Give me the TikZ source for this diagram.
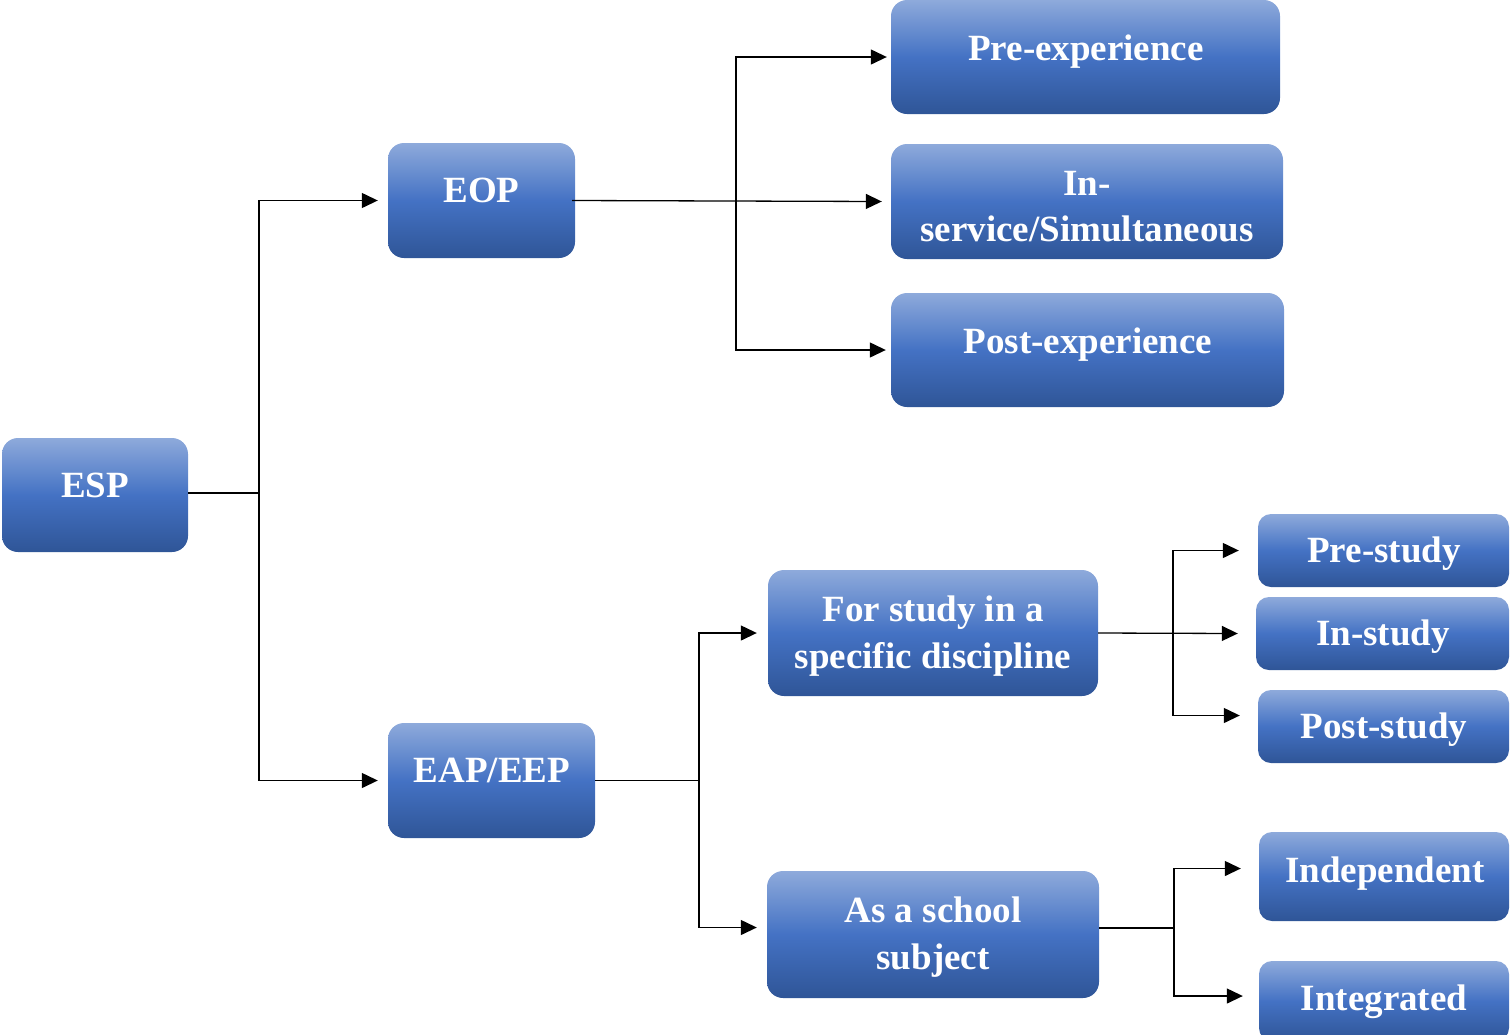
\documentclass[tikz,border=0pt]{standalone}
\usepackage{fontspec}
\setmainfont{Liberation Serif}
\usetikzlibrary{arrows.meta}
\definecolor{boxtop}{HTML}{8EAADB}
\definecolor{boxmid}{HTML}{4472C4}
\definecolor{boxbot}{HTML}{2F5597}
\tikzset{
  box/.style={rectangle, rounded corners=16pt, draw=none, inner sep=0pt,
    top color=boxtop, bottom color=boxbot, middle color=boxmid},
  smallbox/.style={box, rounded corners=13pt},
  lbl/.style={anchor=base, text=white, inner sep=0pt,
    font=\fontsize{37}{44}\selectfont\bfseries},
  link/.style={line width=1.3pt, draw=black},
  arr/.style={link, -{Triangle[length=16pt,width=15pt]}},
}
\begin{document}
\begin{tikzpicture}[x=1pt,y=-1pt]
\useasboundingbox (0,0) rectangle (1511,1034);

% boxes
\node[box, minimum width=186pt, minimum height=114pt] (esp) at (95,495) {};
\node[box, minimum width=187pt, minimum height=115pt] (eop) at (481.5,200.5) {};
\node[box, minimum width=207pt, minimum height=115pt] (eap) at (491.5,780.5) {};
\node[box, minimum width=389pt, minimum height=114pt] (pre) at (1085.5,57) {};
\node[box, minimum width=392pt, minimum height=115pt] (ins) at (1087,201.5) {};
\node[box, minimum width=393pt, minimum height=114pt] (post) at (1087.5,350) {};
\node[box, minimum width=330pt, minimum height=126pt] (fsd) at (933,633) {};
\node[box, minimum width=332pt, minimum height=127pt] (sch) at (933,934.5) {};
\node[smallbox, minimum width=251pt, minimum height=73pt] (prs) at (1383.5,550.5) {};
\node[smallbox, minimum width=253pt, minimum height=73pt] (ins2) at (1382.5,633.5) {};
\node[smallbox, minimum width=251pt, minimum height=73pt] (pos) at (1383.5,726.5) {};
\node[smallbox, minimum width=250pt, minimum height=89pt] (ind) at (1384,876.5) {};
\node[smallbox, minimum width=250pt, minimum height=80pt] (int) at (1384,1001) {};

% labels (placed on their baselines)
\node[lbl] (esp-t) at (95,497) {ESP};
\node[lbl] (eop-t) at (481.5,202) {EOP};
\node[lbl] (eap-t) at (492,782) {EAP/EEP};
\node[lbl] (pre-t) at (1086,60) {Pre-experience};
\node[lbl] (ins-t1) at (1087,195) {In-};
\node[lbl] (ins-t2) at (1087,241) {service/Simultaneous};
\node[lbl] (post-t) at (1088,353) {Post-experience};
\node[lbl] (fsd-t1) at (933,621) {For study in a};
\node[lbl] (fsd-t2) at (933,668) {specific discipline};
\node[lbl] (sch-t1) at (933,922) {As a school};
\node[lbl] (sch-t2) at (933,969) {subject};
\node[lbl] (prs-t) at (1384,562) {Pre-study};
\node[lbl] (ins2-t) at (1383,645) {In-study};
\node[lbl] (pos-t) at (1384,738) {Post-study};
\node[lbl] (ind-t) at (1385,882) {Independent};
\node[lbl] (int-t) at (1384,1010) {Integrated};

% ESP branches
\coordinate (j1) at (259,493);
\draw[link] ([yshift=2pt]esp.east) -- (j1);
\draw[arr] (j1) |- ([xshift=-10pt]eop.west);
\draw[arr] (j1) |- ([xshift=-10pt]eap.west);

% EOP branches
\coordinate (j2) at (736,201);
\draw[arr] ([xshift=-3pt]eop.east) -- ([xshift=-9pt]ins.west);
\draw[arr] (j2) |- ([xshift=-4pt]pre.west);
\draw[arr] (j2) |- ([xshift=-5pt]post.west);

% EAP/EEP branches
\coordinate (j3) at (699,780.5);
\draw[link] (eap.east) -- (j3);
\draw[arr] (j3) |- ([xshift=-11pt]fsd.west);
\draw[arr] (j3) |- ([xshift=-10pt,yshift=7pt]sch.west);

% study-in-a-discipline branches
\coordinate (j4) at (1173,633);
\draw[arr] (fsd.east) -- ([xshift=-18pt]ins2.west);
\draw[arr] (j4) |- ([xshift=-19pt]prs.west);
\draw[arr] (j4) |- ([xshift=-18pt,yshift=11pt]pos.west);

% school-subject branches
\coordinate (j5) at (1174,928);
\draw[link] ([yshift=6.5pt]sch.east) -- (j5);
\draw[arr] (j5) |- ([xshift=-18pt,yshift=8pt]ind.west);
\draw[arr] (j5) |- ([xshift=-16pt,yshift=5pt]int.west);
\end{tikzpicture}
\end{document}
